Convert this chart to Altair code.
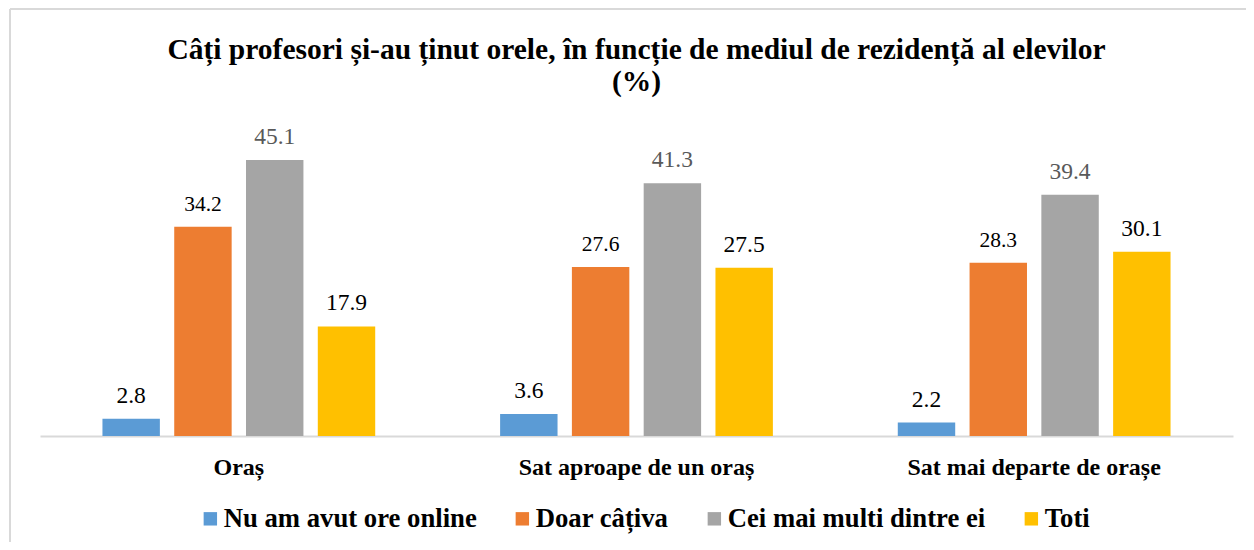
import altair as alt
import pandas as pd

categories = ["Oraș", "Sat aproape de un oraș", "Sat mai departe de orașe"]
series_names = ["Nu am avut ore online", "Doar câțiva", "Cei mai multi dintre ei", "Toti"]
nu_am_avut = [2.8, 3.6, 2.2]
doar_cativa = [34.2, 27.6, 28.3]
cei_mai_multi = [45.1, 41.3, 39.4]
toti = [17.9, 27.5, 30.1]

rows = []
for s, vals in zip(series_names, [nu_am_avut, doar_cativa, cei_mai_multi, toti]):
    for c, v in zip(categories, vals):
        rows.append({"category": c, "series": s, "value": v})
df = pd.DataFrame(rows)

FONT = "Times New Roman, Liberation Serif, DejaVu Serif, serif"
colors = ["#5B9BD5", "#ED7D31", "#A5A5A5", "#FFC000"]

x = alt.X(
    "category:N", sort=categories,
    scale=alt.Scale(paddingInner=0, paddingOuter=0),
    axis=alt.Axis(title=None, labelAngle=0, labelFont=FONT, labelFontSize=24,
                  labelFontWeight="bold", labelColor="black", labelPadding=38,
                  labelBaseline="alphabetic", ticks=False, domainColor="#D9D9D9",
                  domainWidth=2, labelLimit=0),
)
xo = alt.XOffset("series:N", sort=series_names,
                 scale=alt.Scale(paddingInner=0.2, paddingOuter=0.87))
y = alt.Y("value:Q", scale=alt.Scale(domain=[0, 50]), axis=None)

bars = alt.Chart(df).mark_bar().encode(
    x=x, xOffset=xo, y=y,
    color=alt.Color(
        "series:N", sort=series_names,
        scale=alt.Scale(domain=series_names, range=colors),
        legend=alt.Legend(title=None, orient="none", legendX=157, legendY=375,
                          direction="horizontal", columns=4, symbolType="square",
                          symbolSize=180, symbolStrokeWidth=0, symbolOpacity=1,
                          labelFont=FONT, labelFontSize=26.7, labelFontWeight="bold",
                          labelColor="black", labelOffset=0, columnPadding=32,
                          labelLimit=0),
    ),
)

labels = alt.Chart(df).mark_text(baseline="alphabetic", dy=-16, font=FONT).encode(
    x=x, xOffset=xo, y=y,
    text=alt.Text("value:Q", format=".1f"),
    color=alt.condition(alt.datum.series == "Cei mai multi dintre ei",
                        alt.value("#595959"), alt.value("black")),
    size=alt.condition(alt.datum.series == "Doar câțiva",
                       alt.value(21.5), alt.value(23.5)),
)

frame_left = alt.Chart(alt.Data(values=[{}])).mark_rule(color="#D9D9D9", strokeWidth=2).encode(
    x=alt.value(-30), y=alt.value(-121), y2=alt.value(412))
frame_top = alt.Chart(alt.Data(values=[{}])).mark_rule(color="#D9D9D9", strokeWidth=2).encode(
    x=alt.value(-30), x2=alt.value(1214), y=alt.value(-121))

chart = alt.layer(frame_left, frame_top, bars, labels).properties(
    width=1193, height=306,
    autosize="none",
    padding={"left": 32, "top": 122, "right": 13, "bottom": 106},
    title=alt.Title(
        ["Câți profesori și-au ținut orele, în funcție de mediul de rezidență al elevilor", "(%)"],
        font=FONT, fontSize=29.5, fontWeight="bold", color="black",
        anchor="middle", frame="group", offset=-89, lineHeight=32),
).configure_view(stroke=None)

chart.save("out.html", embed_options={"renderer": "svg", "actions": False})
